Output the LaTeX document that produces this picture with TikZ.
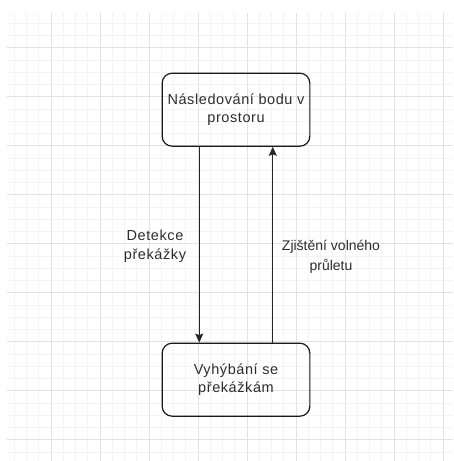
\documentclass[tikz,border=0pt]{standalone}
\usepackage{fontspec}
\setmainfont{Liberation Sans}[LetterSpace=4]
\newfontfamily\tightfont{Liberation Sans}
\usetikzlibrary{arrows.meta,positioning}

\definecolor{gridminor}{RGB}{244,244,244}
\definecolor{gridmajor}{RGB}{226,226,226}
\definecolor{inkgray}{RGB}{45,45,45}

\tikzset{
  state/.style={draw=black!90, line width=1.2pt, rounded corners=10pt,
    minimum width=147.7pt, minimum height=73pt, align=center,
    text=inkgray, font=\fontsize{14.5}{18}\selectfont},
  edgelabel/.style={align=center, text=inkgray, font=\fontsize{14.5}{19}\selectfont},
  flow/.style={-{Stealth[length=9pt,width=8pt,inset=1.5pt]}, line width=1.2pt, draw=black!85}
}

\begin{document}
\begin{tikzpicture}[x=1pt,y=-1pt]
        \useasboundingbox (0,0) rectangle (453,461);
        % Grid
            \fill[white] (0,0) rectangle (453,461);
            \foreach \gx in {14.25,26.5,...,453} \draw[gridminor,line width=0.8pt] (\gx,13) -- (\gx,461);
            \foreach \gy in {23.2,35.45,...,461} \draw[gridminor,line width=0.8pt] (7,\gy) -- (453,\gy);
            \foreach \gx in {51,100,...,453} \draw[gridmajor,line width=0.8pt] (\gx,13) -- (\gx,461);
            \foreach \gy in {47.7,96.7,...,461} \draw[gridmajor,line width=0.8pt] (7,\gy) -- (453,\gy);
        % States
            \node[state] (follow) at (236,109.7) {Následování bodu v\\prostoru};
            \node[state] (avoid) at (236,379.7) {Vyhýbání se\\překážkám};
        % Transitions
            \draw[flow] ([xshift=-36.75pt]follow.south) -- ([xshift=-36.75pt]avoid.north);
            \draw[flow] ([xshift=36.75pt]avoid.north) -- ([xshift=36.75pt]follow.south);
            \node[edgelabel] (detect) at (155,246) {Detekce\\překážky};
            \node[edgelabel,font=\tightfont\fontsize{14}{20}\selectfont] (clear) at (331,257) {Zjištění volného\\průletu};
\end{tikzpicture}
\end{document}
